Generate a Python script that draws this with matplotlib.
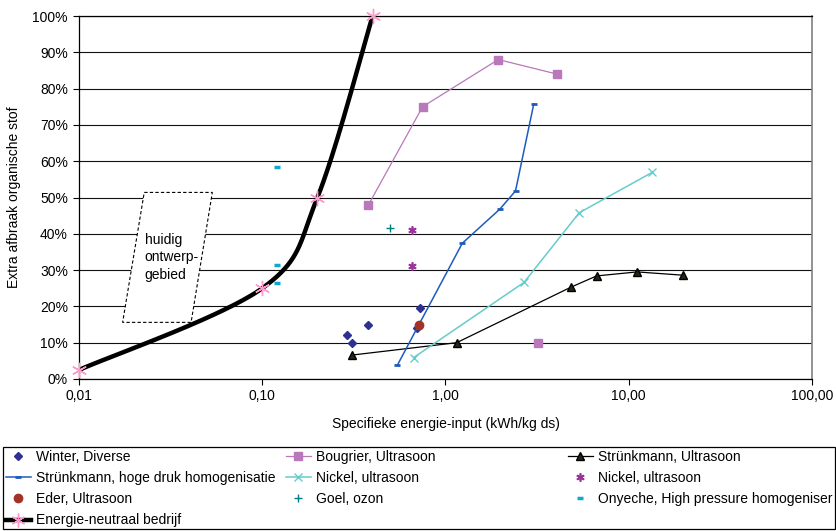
import numpy as np
import matplotlib
matplotlib.use("Agg")
import matplotlib.pyplot as plt
from matplotlib.lines import Line2D
from matplotlib.patches import Polygon, Rectangle

plt.rcParams['font.family'] = ['Liberation Sans', 'DejaVu Sans']

# ---------------- data ----------------
winter_x = [0.29, 0.31, 0.38, 0.73, 0.70]
winter_y = [12, 10, 15, 19.6, 14]

bougrier_x = [0.38, 0.75, 1.94, 4.06]
bougrier_y = [48, 75, 88, 84]
bougrier_extra_x = [3.2]
bougrier_extra_y = [10]

strunk_us_x = [0.31, 1.15, 4.84, 6.68, 11.1, 19.7]
strunk_us_y = [6.6, 10, 25.3, 28.4, 29.5, 28.6]

strunk_hd_x = [0.546, 1.235, 1.98, 2.41, 3.03]
strunk_hd_y = [3.8, 37.4, 46.8, 51.8, 75.7]

nickel_line_x = [0.67, 2.68, 5.37, 13.4]
nickel_line_y = [5.9, 26.6, 45.8, 56.9]

nickel_pt_x = [0.656, 0.656]
nickel_pt_y = [41, 31.1]

eder_x = [0.72]
eder_y = [14.9]

goel_x = [0.50]
goel_y = [41.7]

onyeche_x = [0.12, 0.12, 0.12]
onyeche_y = [58.3, 31.5, 26.4]

neutraal_x = [0.01, 0.1, 0.2, 0.4]
neutraal_y = [2.5, 25, 50, 100]

box_x = [0.0227, 0.0534, 0.0409, 0.0173]
box_y = [51.4, 51.4, 15.6, 15.6]

xtick_vals = [0.01, 0.1, 1, 10, 100]
xtick_labels = ["0,01", "0,10", "1,00", "10,00", "100,00"]
ytick_vals = list(range(0, 101, 10))
ytick_labels = [f"{v}%" for v in ytick_vals]

labels = ["Winter, Diverse", "Bougrier, Ultrasoon", "Strünkmann, Ultrasoon",
          "Strünkmann, hoge druk homogenisatie", "Nickel, ultrasoon", "Nickel, ultrasoon",
          "Eder, Ultrasoon", "Goel, ozon", "Onyeche, High pressure homogeniser",
          "Energie-neutraal bedrijf"]


def smooth(xs, ys, n=60):
    """Excel-like smoothed line (Catmull-Rom Bezier) in log-x space."""
    P = np.column_stack([np.log10(xs), ys])
    P = np.vstack([P[0], P, P[-1]])
    out = []
    for i in range(1, len(P) - 2):
        p0, p1, p2, p3 = P[i - 1], P[i], P[i + 1], P[i + 2]
        c1 = p1 + (p2 - p0) / 6
        c2 = p2 - (p3 - p1) / 6
        t = np.linspace(0, 1, n)[:, None]
        b = ((1 - t) ** 3) * p1 + 3 * ((1 - t) ** 2) * t * c1 + 3 * (1 - t) * t ** 2 * c2 + t ** 3 * p2
        out.append(b)
    out = np.vstack(out)
    return 10 ** out[:, 0], out[:, 1]


W, H = 837, 531
fig = plt.figure(figsize=(W / 100, H / 100), dpi=100)
ax = fig.add_axes([79 / W, 1 - 379 / H, (812 - 79) / W, (379 - 16) / H])
ax.set_xscale('log')
ax.set_xlim(0.01, 100)
ax.set_ylim(0, 100)
ax.set_xticks(xtick_vals)
ax.set_xticklabels(xtick_labels)
ax.xaxis.set_minor_locator(matplotlib.ticker.NullLocator())
ax.set_yticks(ytick_vals)
ax.set_yticklabels(ytick_labels)
ax.tick_params(axis='both', labelsize=10, length=4, width=0.8, color='black', pad=4)
ax.tick_params(axis='x', pad=3)
ax.grid(axis='y', color='#111111', lw=0.8)
ax.set_axisbelow(True)
for s in ['left', 'bottom', 'top']:
    ax.spines[s].set_color('black')
    ax.spines[s].set_linewidth(0.9)
ax.spines['right'].set_color('#808080')
ax.spines['right'].set_linewidth(1.2)

ax.set_xlabel("Specifieke energie-input (kWh/kg ds)", fontsize=10, labelpad=10)
ax.set_ylabel("Extra afbraak organische stof", fontsize=10, labelpad=8)

# design region box
poly = Polygon(np.column_stack([box_x, box_y]), closed=True, facecolor='white',
               edgecolor='black', linestyle=(0, (3, 2)), lw=0.8, zorder=2)
ax.add_patch(poly)
ax.text(0.0228, 33.5, "huidig\nontwerp-\ngebied", fontsize=10, va='center', ha='left',
        linespacing=1.35, zorder=3)

h = []
h.append(ax.plot(winter_x, winter_y, ls='none', marker='D', ms=4.5, color='#2E3192', zorder=5)[0])
h.append(ax.plot(bougrier_x, bougrier_y, '-', lw=0.9, marker='s', ms=5.5, color='#B878BA', zorder=5)[0])
ax.plot(bougrier_extra_x, bougrier_extra_y, ls='none', marker='s', ms=5.5, color='#B878BA', zorder=5)
h.append(ax.plot(strunk_us_x, strunk_us_y, '-', lw=0.9, marker='^', ms=6, color='black',
                 mfc='#262618', zorder=5)[0])
h.append(ax.plot(strunk_hd_x, strunk_hd_y, '-', lw=1.1, marker='_', ms=4, mew=2, color='#1F5BBE', zorder=5)[0])
h.append(ax.plot(nickel_line_x, nickel_line_y, '-', lw=1.1, marker='x', ms=6, mew=1, color='#66CCCC', zorder=5)[0])
h.append(ax.plot(nickel_pt_x, nickel_pt_y, ls='none', marker=(6, 2, 0), ms=6, mew=1.2, color='#993399', zorder=5)[0])
h.append(ax.plot(eder_x, eder_y, ls='none', marker='o', ms=6, color='#A33228', zorder=6)[0])
h.append(ax.plot(goel_x, goel_y, ls='none', marker='+', ms=6, mew=1, color='#008080', zorder=5)[0])
h.append(ax.plot(onyeche_x, onyeche_y, ls='none', marker='_', ms=5, mew=2.5, color='#12A8CC', zorder=5)[0])

sx, sy = smooth(neutraal_x, neutraal_y)
ax.plot(sx, sy, '-', lw=3.2, color='black', zorder=7, solid_capstyle='round')
ax.plot(neutraal_x, neutraal_y, ls='none', marker=(6, 2, 0), ms=11, mew=1, color='#FF99CC', zorder=8,
        clip_on=False)
h.append(Line2D([], [], color='black', lw=3.2, marker=(6, 2, 0), ms=10, mew=1, mec='#FF99CC'))

# legend frame
fig.patches.append(Rectangle((3 / W, 1 - 529 / H), (835 - 3) / W, (529 - 447) / H,
                             transform=fig.transFigure, fill=False, edgecolor='black', lw=0.9))

cols = [[0, 3, 6, 9], [1, 4, 7], [2, 5, 8]]
xpos = [3, 283, 565]
for c, x0 in zip(cols, xpos):
    fig.legend([h[i] for i in c], [labels[i] for i in c], loc='upper left',
               bbox_to_anchor=(x0 / W, 1 - 447 / H), frameon=False, fontsize=10,
               handlelength=1.8, handletextpad=0.4, labelspacing=0.52, borderpad=0.2,
               borderaxespad=0, numpoints=1)

fig.savefig("out.png", dpi=100)
